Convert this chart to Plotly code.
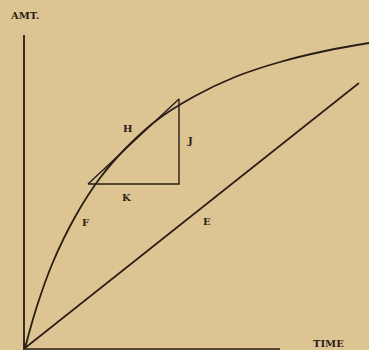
import plotly.graph_objects as go

# amount curve (time, amount)
curve_t = [0, 12, 28, 50, 75, 100, 132, 170, 210, 255, 300, 344]
curve_a = [0, 42, 86, 131, 170, 199, 228, 252, 271, 286, 297, 305]

# straight line E
line_t = [0, 334]
line_a = [0, 265]

# tangent triangle H-J-K
tri_t = [63, 154, 154, 63]
tri_a = [164, 164, 249, 164]

# axes
yaxis_t = [-1, -1]
yaxis_a = [-2, 313]
xaxis_t = [0, 255]
xaxis_a = [-1, -1]

labels = ['AMT.', 'H', 'J', 'K', 'F', 'E', 'TIME']
label_t = [-1, 102, 165, 101, 60, 182, 303]
label_a = [333, 220, 208, 151, 126, 127, 5]

ink = '#2a1c16'
bg = '#dcc593'

fig = go.Figure()

fig.add_trace(go.Scatter(x=yaxis_t, y=yaxis_a, mode='lines',
                         line=dict(color=ink, width=1.8)))
fig.add_trace(go.Scatter(x=xaxis_t, y=xaxis_a, mode='lines',
                         line=dict(color=ink, width=1.5)))
fig.add_trace(go.Scatter(x=curve_t, y=curve_a, mode='lines',
                         line=dict(color=ink, width=1.8, shape='spline', smoothing=1.0)))
fig.add_trace(go.Scatter(x=line_t, y=line_a, mode='lines',
                         line=dict(color=ink, width=1.6)))
fig.add_trace(go.Scatter(x=tri_t, y=tri_a, mode='lines',
                         line=dict(color=ink, width=1.4)))

for txt, t, a in zip(labels, label_t, label_a):
    fig.add_annotation(x=t, y=a, text=f'<b>{txt}</b>', showarrow=False,
                       font=dict(family='DejaVu Serif', size=10, color=ink))

fig.update_layout(
    width=369,
    height=350,
    margin=dict(l=0, r=0, t=0, b=0),
    paper_bgcolor=bg,
    plot_bgcolor=bg,
    showlegend=False,
    xaxis=dict(range=[-25, 344], visible=False, fixedrange=True),
    yaxis=dict(range=[-2, 348], visible=False, fixedrange=True),
)

fig.write_html("out.html", config={'displayModeBar': False},
               post_script="document.body.style.margin='0';document.body.style.background='" + bg + "';")
